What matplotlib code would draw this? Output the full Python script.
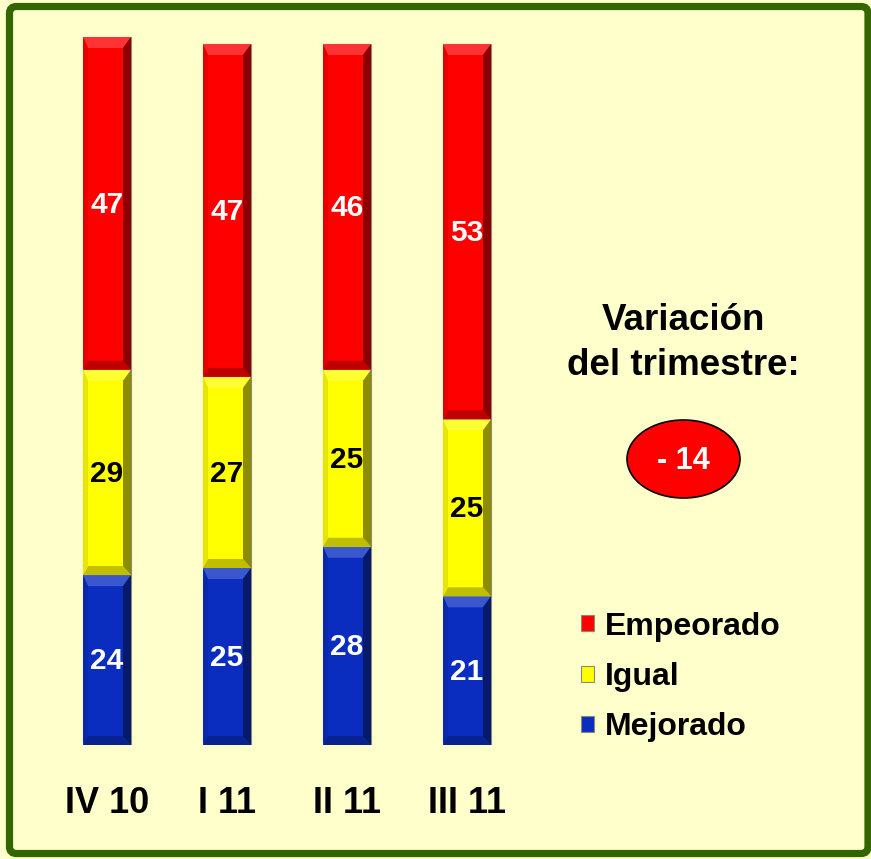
import numpy as np
import matplotlib.pyplot as plt
from matplotlib.patches import FancyBboxPatch, Ellipse, Polygon
from matplotlib.colors import to_rgb

# Données
categorias = ['IV 10', 'I 11', 'II 11', 'III 11']
mejorado = [24, 25, 28, 21]
igual = [29, 27, 25, 25]
empeorado = [47, 47, 46, 53]
variacion = '- 14'

# Couleurs
Rojo = '#FF0000'
Amarillo = '#FFFF00'
Azul = '#0A2DC0'
Fondo = '#FFFFCC'
Verde = '#336600'

plt.rcParams['font.family'] = ['Liberation Sans', 'DejaVu Sans']
plt.rcParams['font.weight'] = 'bold'

W, H = 871, 859
fig = plt.figure(figsize=(W / 100, H / 100), dpi=100)
fig.patch.set_facecolor(Fondo)

# cadre vert
fig.patches.append(FancyBboxPatch((9.5 / W, 5.5 / H), (868 - 9.5) / W, (852.5 - 5.5) / H,
                                  boxstyle='round,pad=0,rounding_size=0.008',
                                  transform=fig.transFigure, fill=False, ec=Verde, lw=5.2))

ax = fig.add_axes([47 / W, 114 / H, 480 / W, 708 / H])
ax.set_xlim(-0.5, 3.5)
ax.set_ylim(0, 100)
ax.axis('off')

x = np.arange(len(categorias))
px_x = 1 / 120  # unités x par pixel
px_y = 100 / 708  # unités y par pixel


def shade(c, f):
    r, g, b = to_rgb(c)
    if f >= 0:
        return (r + (1 - r) * f, g + (1 - g) * f, b + (1 - b) * f)
    return (r * (1 + f), g * (1 + f), b * (1 + f))


def bevel(p, color):
    x0, y0, w, h = p.get_x(), p.get_y(), p.get_width(), p.get_height()
    x1, y1 = x0 + w, y0 + h
    bl, br = 5 * px_x, 8 * px_x
    bt, bb = 11 * px_y, 9 * px_y
    faces = [
        ([(x0, y1), (x1, y1), (x1 - br, y1 - bt), (x0 + bl, y1 - bt)], shade(color, 0.2)),
        ([(x0, y0), (x1, y0), (x1 - br, y0 + bb), (x0 + bl, y0 + bb)], shade(color, -0.25)),
        ([(x0, y0), (x0, y1), (x0 + bl, y1 - bt), (x0 + bl, y0 + bb)], shade(color, -0.1)),
        ([(x1, y0), (x1, y1), (x1 - br, y1 - bt), (x1 - br, y0 + bb)], shade(color, -0.45)),
    ]
    for pts, c in faces:
        ax.add_patch(Polygon(pts, closed=True, fc=c, ec='none', zorder=3))


series = [(mejorado, Azul, 'Mejorado', 'white'),
          (igual, Amarillo, 'Igual', 'black'),
          (empeorado, Rojo, 'Empeorado', 'white')]

bottom = np.zeros(len(categorias))
handles = []
for vals, col, lab, tcol in series:
    bars = ax.bar(x, vals, 0.4, bottom=bottom, color=col, edgecolor='#8a8a7a',
                  linewidth=0.8, label=lab, zorder=2)
    handles.append(bars)
    for p, v in zip(bars, vals):
        bevel(p, col)
        ax.text(p.get_x() + p.get_width() / 2, p.get_y() + p.get_height() / 2 - 0.2, str(v),
                ha='center', va='center', color=tcol, fontsize=21.5, fontweight='bold', zorder=4)
    bottom += np.array(vals)

for i, cat in enumerate(categorias):
    ax.text(i, -8.2, cat, ha='center', va='center', fontsize=26, fontweight='bold')

# Variation
fig.text(683 / W, 1 - 320 / H, 'Variación', ha='center', va='center', fontsize=26.5, fontweight='bold')
fig.text(683 / W, 1 - 365 / H, 'del trimestre:', ha='center', va='center', fontsize=26.5, fontweight='bold')
fig.patches.append(Ellipse((683.5 / W, 1 - 459 / H), 113 / W, 78 / H, transform=fig.transFigure,
                           fc=Rojo, ec='black', lw=1.2))
fig.text(683.5 / W, 1 - 461 / H, variacion, ha='center', va='center', fontsize=22,
         fontweight='bold', color='white')

leg = fig.legend(handles[::-1], ['Empeorado', 'Igual', 'Mejorado'],
                 loc='center left', bbox_to_anchor=(565 / W, 1 - 677 / H), frameon=False,
                 fontsize=23, handlelength=0.4, handleheight=0.4, handletextpad=0.35,
                 labelspacing=0.64, borderpad=0)
for t in leg.get_texts():
    t.set_fontweight('bold')

fig.savefig('out.png', dpi=100, facecolor=Fondo)
